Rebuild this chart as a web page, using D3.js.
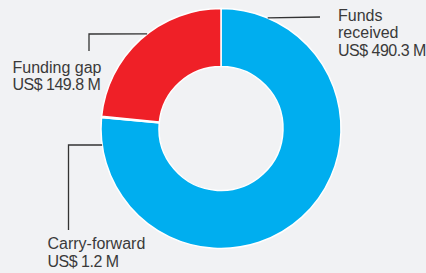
<html>
<head>
<script src="https://cdn.jsdelivr.net/npm/d3@7"></script>
<style>
body { margin: 0; background: #f1f2f4; }
svg { display: block; }
.lbl { font-family: "Liberation Sans", Arial, sans-serif; font-size: 16px; fill: #3a3a3a; }
.amt { letter-spacing: -0.5px; }
</style>
</head>
<body>
<svg width="426" height="273"></svg>
<script>
// chart data
var names = ["Funds received", "Carry-forward", "Funding gap"];
var values = [490.3, 1.2, 149.8];
var labelLines = [["Funds", "received", "US$ 490.3 M"], ["Carry-forward", "US$ 1.2 M"], ["Funding gap", "US$ 149.8 M"]];
var colors = ["#00aeef", "#00aeef", "#ef2027"];

var svg = d3.select("svg"),
    cx = 221, cy = 128.5,
    outer = 120, inner = 62,
    g = svg.append("g").attr("transform", "translate(" + cx + "," + cy + ")");

var pie = d3.pie().sort(null).value(function(d) { return d; });
var arc = d3.arc().innerRadius(inner).outerRadius(outer);

g.selectAll("path.slice")
    .data(pie(values))
  .enter().append("path")
    .attr("class", "slice")
    .attr("d", arc)
    .attr("fill", function(d, i) { return colors[i]; })
    .attr("stroke", "#fff")
    .attr("stroke-width", 1.5);

// callouts: where the leader touches the ring (degrees clockwise from top), elbow and text
var callouts = [
  {angle: 22.9, elbow: [320, 17], text: [338, 20.5], lh: 17.8},
  {angle: 262.1, elbow: [68.5, 145], end: [68.5, 230], text: [47.5, 249], lh: 18},
  {angle: 322, elbow: [89, 34], end: [89, 51], text: [12.5, 73], lh: 16.7}
];

function ringPoint(deg) {
  var a = deg * Math.PI / 180;
  return [cx + outer * Math.sin(a), cy - outer * Math.cos(a)];
}

callouts.forEach(function(c, i) {
  var p = ringPoint(c.angle);
  var pts = [p, c.elbow];
  if (c.end) pts.push(c.end);
  svg.append("path")
      .attr("d", d3.line()(pts))
      .attr("fill", "none")
      .attr("stroke", "#333")
      .attr("stroke-width", 1.3);
  var t = svg.append("text").attr("class", "lbl");
  labelLines[i].forEach(function(s, j) {
    t.append("tspan")
        .attr("class", s.indexOf("US$") === 0 ? "amt" : null)
        .attr("x", c.text[0]).attr("y", c.text[1] + j * c.lh).text(s);
  });
});
</script>
</body>
</html>
